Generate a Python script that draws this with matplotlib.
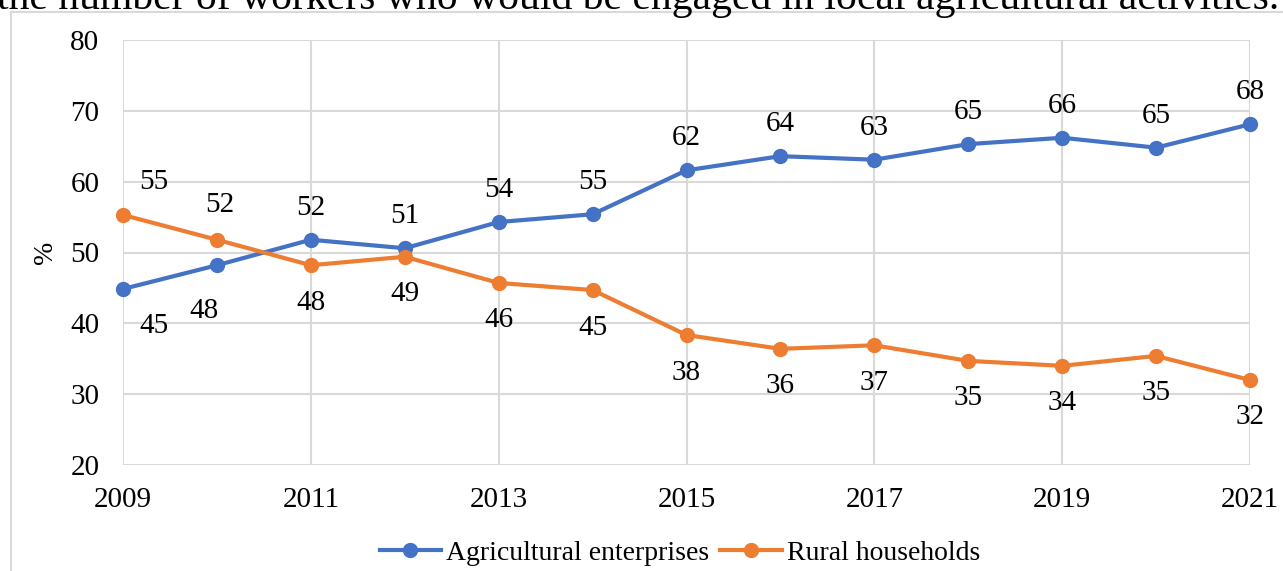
import matplotlib.pyplot as plt
from matplotlib.patches import Rectangle

years = list(range(2009, 2022))
enterprises = [44.85, 48.2, 51.8, 50.6, 54.3, 55.4, 61.6, 63.6, 63.1, 65.3, 66.2, 64.8, 68.1]
households = [55.3, 51.8, 48.2, 49.4, 45.7, 44.7, 38.35, 36.4, 36.9, 34.7, 34.0, 35.4, 32.0]
xticks = [2009, 2011, 2013, 2015, 2017, 2019, 2021]
yticks = [20, 30, 40, 50, 60, 70, 80]

# label offsets in points (dx, dy)
off_ent = [(22, -27), (-9, -33)] + [(0, 23)] * 11
off_hh = [(22, 24), (2, 25)] + [(0, -27)] * 11

blue = '#4472C4'
orange = '#ED7D31'
grid = '#D9D9D9'

plt.rcParams['font.family'] = ['Liberation Serif', 'DejaVu Serif']

W, H = 1283, 571
fig = plt.figure(figsize=(W / 100, H / 100), dpi=100)
fig.patch.set_facecolor('white')

# chart frame, running off the page at right and bottom
fig.patches.append(Rectangle((10.5 / W, -0.2), 1.5, 1.2 - 12 / H, transform=fig.transFigure,
                             fill=False, edgecolor=grid, lw=1.5))
fig.text(-3 / W, 1 - 9 / H, 'the number of workers who would be engaged in local agricultural activities.',
         fontsize=30, va='baseline', ha='left')

ax = fig.add_axes([123 / W, 1 - 465 / H, (1250 - 123) / W, (465 - 40) / H])
ax.set_xlim(2009, 2021)
ax.set_ylim(20, 80)
ax.set_xticks(xticks)
ax.set_yticks(yticks)
ax.grid(True, color=grid, lw=1.5)
ax.set_axisbelow(True)
for s in ax.spines.values():
    s.set_visible(False)
ax.tick_params(length=0, labelsize=21, pad=17)
ax.tick_params(axis='x', pad=16)
ax.set_ylabel('%', fontsize=20, labelpad=9)

ax.plot(years, enterprises, color=blue, lw=3, marker='o', ms=10, label='Agricultural enterprises',
        clip_on=False, zorder=3)
ax.plot(years, households, color=orange, lw=3, marker='o', ms=10, label='Rural households',
        clip_on=False, zorder=3)

for x, v, o in zip(years, enterprises, off_ent):
    ax.annotate(f'{v:.0f}', (x, v), xytext=o, textcoords='offset points', ha='center', va='center',
                fontsize=21)
for x, v, o in zip(years, households, off_hh):
    ax.annotate(f'{v:.0f}', (x, v), xytext=o, textcoords='offset points', ha='center', va='center',
                fontsize=21)

fig.legend(loc='center', bbox_to_anchor=(680 / W, 1 - 553 / H), ncol=2, frameon=False, fontsize=20,
           handlelength=2.2, handletextpad=0.2, columnspacing=0.4)

fig.savefig('out.png', dpi=100)
